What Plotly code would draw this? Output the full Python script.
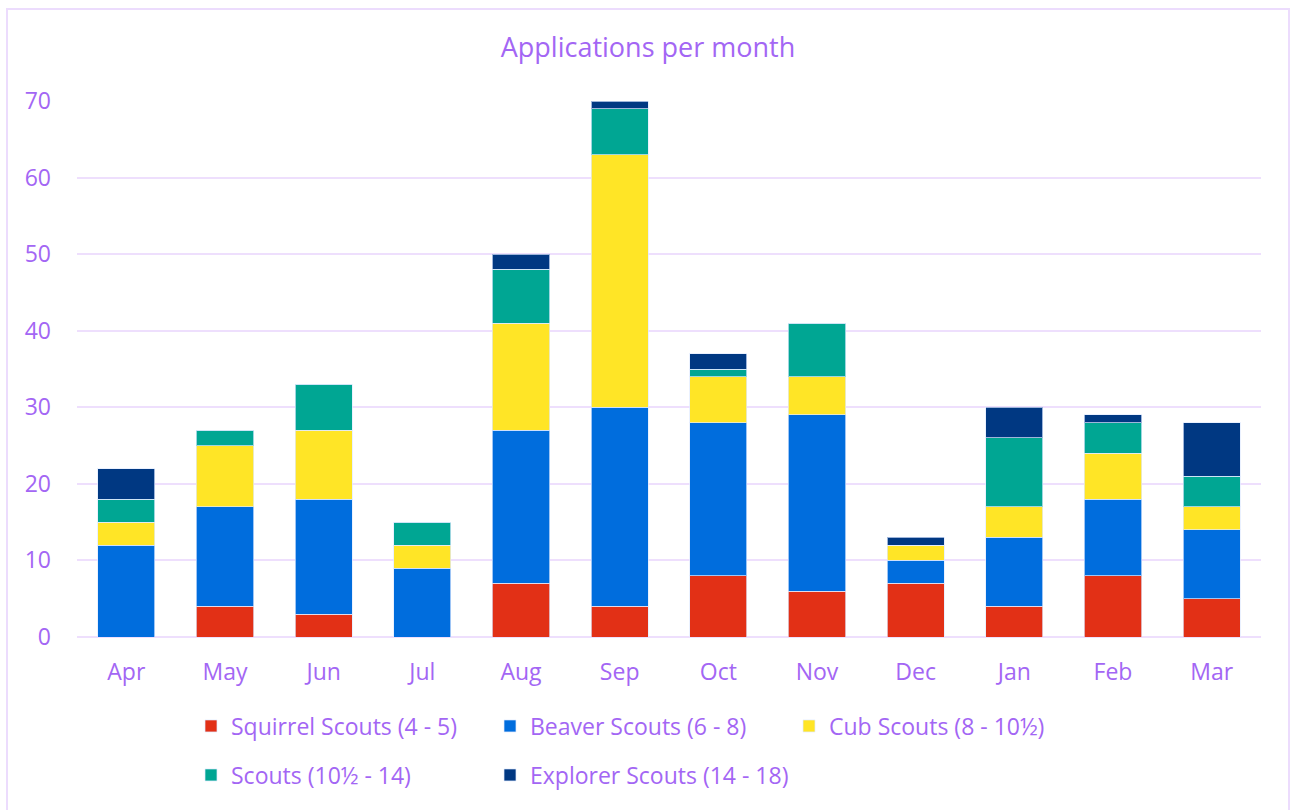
import plotly.graph_objects as go

months = ["Apr", "May", "Jun", "Jul", "Aug", "Sep", "Oct", "Nov", "Dec", "Jan", "Feb", "Mar"]
squirrel = [0, 4, 3, 0, 7, 4, 8, 6, 7, 4, 8, 5]
beaver = [12, 13, 15, 9, 20, 26, 20, 23, 3, 9, 10, 9]
cub = [3, 8, 9, 3, 14, 33, 6, 5, 2, 4, 6, 3]
scouts = [3, 2, 6, 3, 7, 6, 1, 7, 0, 9, 4, 4]
explorer = [4, 0, 0, 0, 2, 1, 2, 0, 1, 4, 1, 7]

series_names = ["Squirrel Scouts (4 - 5)", "Beaver Scouts (6 - 8)", "Cub Scouts (8 - 10½)",
                "Scouts (10½ - 14)", "Explorer Scouts (14 - 18)"]
series_values = [squirrel, beaver, cub, scouts, explorer]
colors = ["#e23016", "#006ddd", "#ffe526", "#00a693", "#003882"]
legend_ids = ["legend", "legend", "legend", "legend2", "legend2"]

FONT = "Open Sans"
TXT = "#a366f4"
GRID = "#eedffd"

W, H = 1291, 810
L, R, T, B = 77, 30, 101, 173
pw, ph = W - L - R, H - T - B

fig = go.Figure()
for name, vals, col, lg in zip(series_names, series_values, colors, legend_ids):
    fig.add_trace(go.Bar(
        x=months, y=vals, name=name, legend=lg,
        marker=dict(color=col, line=dict(color="rgba(225,235,255,0.7)", width=1)),
    ))

def px_x(p):
    return (p - L) / pw

def px_y(p):
    return (H - B - p) / ph

fig.update_layout(
    width=W, height=H,
    margin=dict(l=L, r=R, t=T, b=B, autoexpand=False),
    barmode="stack", bargap=0.42,
    paper_bgcolor="white", plot_bgcolor="white",
    font=dict(family=FONT, color=TXT, size=23),
    title=dict(text="Applications per month", x=648 / W, xref="container", xanchor="center",
               y=1 - 48 / H, yref="container", yanchor="middle",
               font=dict(size=27, color=TXT, family=FONT)),
    xaxis=dict(showgrid=False, showline=False, ticks="", ticklabelstandoff=19,
               tickfont=dict(size=23, color=TXT)),
    yaxis=dict(range=[0, 70], dtick=10, showgrid=True, gridcolor=GRID, gridwidth=2,
               zeroline=True, zerolinecolor=GRID, zerolinewidth=2, showline=False,
               ticks="", ticklabelstandoff=25, tickfont=dict(size=23, color=TXT)),
    legend=dict(orientation="h", x=px_x(191), xanchor="left", y=px_y(726), yanchor="middle",
                entrywidth=254, entrywidthmode="pixels", font=dict(size=23, color=TXT),
                bgcolor="rgba(0,0,0,0)", traceorder="normal"),
    legend2=dict(orientation="h", x=px_x(191), xanchor="left", y=px_y(775), yanchor="middle",
                 entrywidth=254, entrywidthmode="pixels", font=dict(size=23, color=TXT),
                 bgcolor="rgba(0,0,0,0)", traceorder="normal"),
    showlegend=True,
    shapes=[dict(type="rect", xref="paper", yref="paper",
                 x0=px_x(7), x1=px_x(1289), y0=px_y(H + 20), y1=px_y(9),
                 line=dict(color="#ecdcfd", width=2), fillcolor="rgba(0,0,0,0)", layer="below")],
)

fig.write_html("out.html", config={"displayModeBar": False},
               post_script="document.body.style.margin='0px';")
